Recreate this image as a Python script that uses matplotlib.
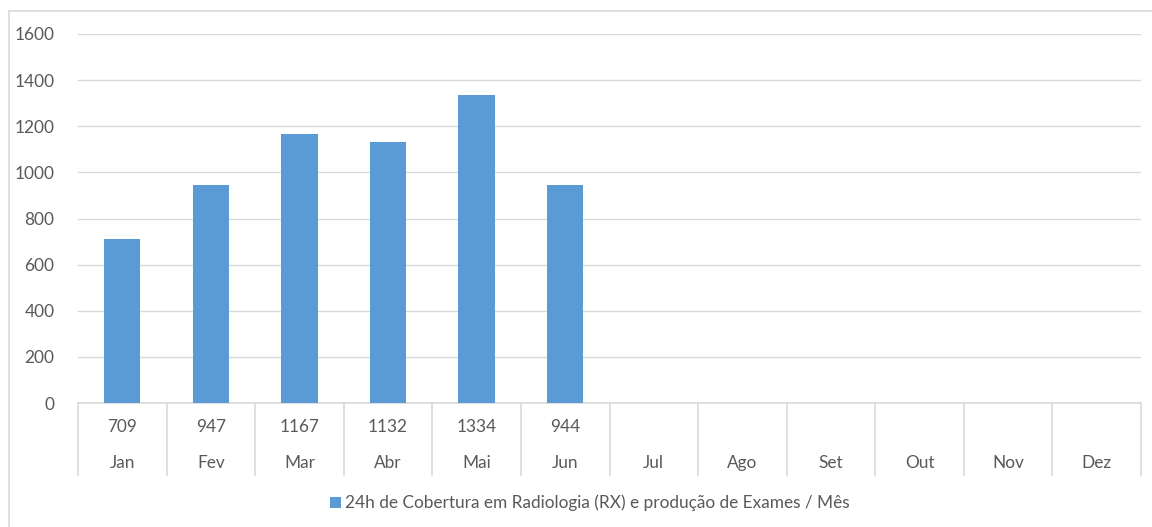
import matplotlib
matplotlib.use("Agg")
import matplotlib.pyplot as plt
from matplotlib.transforms import blended_transform_factory
from matplotlib.lines import Line2D
from matplotlib.patches import Patch

months = ["Jan", "Fev", "Mar", "Abr", "Mai", "Jun", "Jul", "Ago", "Set", "Out", "Nov", "Dez"]
values = [709, 947, 1167, 1132, 1334, 944, None, None, None, None, None, None]
yticks = [0, 200, 400, 600, 800, 1000, 1200, 1400, 1600]
series_name = "24h de Cobertura em Radiologia (RX) e produção de Exames / Mês"

plt.rcParams['font.family'] = ['Lato', 'DejaVu Sans']
FS = 12.4
W, H = 1152, 527
fig = plt.figure(figsize=(W / 100, H / 100), dpi=100)
TXT = "#595959"
GRID = "#D9D9D9"
BAR = "#5B9BD5"

def fy(py):
    return 1 - py / H

ax = fig.add_axes([78 / W, fy(403), (1141 - 78) / W, (403 - 34) / H])
xs = [i for i, v in enumerate(values) if v is not None]
vs = [v for v in values if v is not None]
ax.bar(xs, vs, width=0.41, color=BAR, zorder=3)
ax.set_xlim(-0.5, len(months) - 0.5)
ax.set_ylim(0, 1600)
ax.set_yticks(yticks)
ax.set_yticklabels([str(t) for t in yticks], color=TXT, fontsize=FS)
ax.tick_params(axis='y', length=0, pad=17)
ax.set_xticks([])
for s in ["left", "right", "top"]:
    ax.spines[s].set_visible(False)
ax.spines["bottom"].set_color(GRID)
ax.spines["bottom"].set_linewidth(1.2)
ax.yaxis.grid(True, color=GRID, linewidth=1.0, zorder=0)

# data table below the axis
tr = blended_transform_factory(ax.transData, fig.transFigure)
for k in range(len(months) + 1):
    x = k - 0.5
    ax.add_line(Line2D([x, x], [fy(403), fy(475)], transform=tr, color=GRID,
                       linewidth=1.2, clip_on=False))
for i, m in enumerate(months):
    if values[i] is not None:
        ax.text(i, fy(427), str(values[i]), transform=tr, ha='center', va='center',
                color=TXT, fontsize=FS)
    ax.text(i, fy(463), m, transform=tr, ha='center', va='center', color=TXT, fontsize=FS)

# legend
fig.legend(handles=[Patch(facecolor=BAR, edgecolor='none', label=series_name)],
           loc='center', bbox_to_anchor=(0.512, fy(503)), frameon=False,
           fontsize=FS, labelcolor=TXT, handlelength=0.6, handleheight=0.6,
           handletextpad=0.25)

# outer chart border
fig.add_artist(Line2D([9 / W, 1.0], [fy(11), fy(11)], transform=fig.transFigure,
                      color=GRID, linewidth=1.2))
fig.add_artist(Line2D([9 / W, 9 / W], [fy(11), 0.0], transform=fig.transFigure,
                      color=GRID, linewidth=1.2))

fig.savefig("out.png", dpi=100)
